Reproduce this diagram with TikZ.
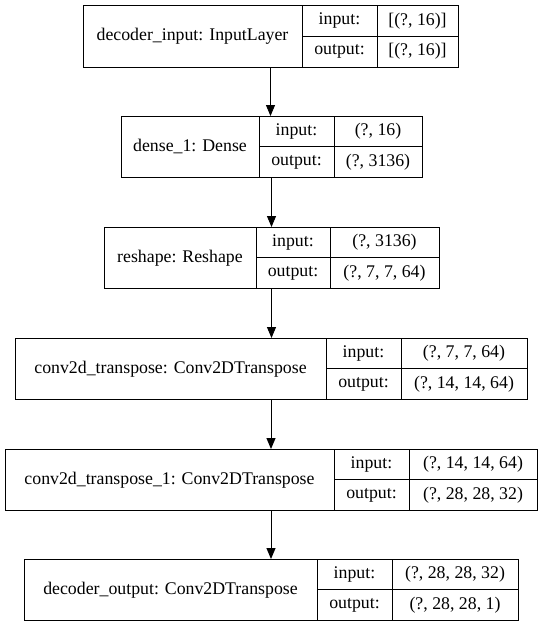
\documentclass[tikz,border=0pt]{standalone}
\usepackage{fontspec}
\setmainfont{Liberation Serif}
\usetikzlibrary{arrows.meta}
\tikzset{
  lbox/.style={draw=black, line width=1pt, inner sep=0pt, outer sep=0pt, anchor=north west},
  divline/.style={draw=black, line width=1pt},
  txt/.style={inner sep=0pt, font=\fontsize{17.8}{20}\selectfont},
  arr/.style={draw=black, line width=1pt, -{Triangle[length=11pt,width=9pt]}}
}
% #1 name, #2 left x, #3 first divider, #4 second divider, #5 right x, #6 top y, #7 label, #8 input, #9 output
\newcommand\kerasbox[9]{%
  \node[lbox, minimum width=#5pt-#2pt, minimum height=61.5pt] (#1) at (#2,-#6) {};
  \draw[divline] (#3,-#6) -- ({#3},{-#6-61.5});
  \draw[divline] (#4,-#6) -- ({#4},{-#6-61.5});
  \draw[divline] ({#3},{-#6-30.75}) -- ({#5},{-#6-30.75});
  \node[txt] (#1-label) at ({(#2+#3)/2},{-#6-30.75}) {#7};
  \node[txt] (#1-inlab) at ({(#3+#4)/2},{-#6-15.4}) {input:};
  \node[txt] (#1-outlab) at ({(#3+#4)/2},{-#6-46.1}) {output:};
  \node[txt] (#1-in) at ({(#4+#5)/2},{-#6-15.4}) {#8};
  \node[txt] (#1-out) at ({(#4+#5)/2},{-#6-46.1}) {#9};
}
\begin{document}
\begin{tikzpicture}[x=1pt,y=1pt]
\useasboundingbox (0,0) rectangle (543,-627);
\kerasbox{b1}{83}{302}{377}{458}{5.5}{decoder\_input: InputLayer}{[(?, 16)]}{[(?, 16)]}
\kerasbox{b2}{121}{259}{334}{422}{116}{dense\_1: Dense}{(?, 16)}{(?, 3136)}
\kerasbox{b3}{104}{256}{330}{439}{227}{reshape: Reshape}{(?, 3136)}{(?, 7, 7, 64)}
\kerasbox{b4}{15}{326}{401}{527}{338}{conv2d\_transpose: Conv2DTranspose}{(?, 7, 7, 64)}{(?, 14, 14, 64)}
\kerasbox{b5}{5}{334}{409}{537}{449}{conv2d\_transpose\_1: Conv2DTranspose}{(?, 14, 14, 64)}{(?, 28, 28, 32)}
\kerasbox{b6}{24}{317}{392}{518}{559}{decoder\_output: Conv2DTranspose}{(?, 28, 28, 32)}{(?, 28, 28, 1)}
\draw[arr] (b1.south) -- (b1.south |- b2.north);
\draw[arr] (b2.south) -- (b2.south |- b3.north);
\draw[arr] (b3.south) -- (b3.south |- b4.north);
\draw[arr] (b4.south) -- (b4.south |- b5.north);
\draw[arr] (b5.south) -- (b5.south |- b6.north);
\end{tikzpicture}
\end{document}
